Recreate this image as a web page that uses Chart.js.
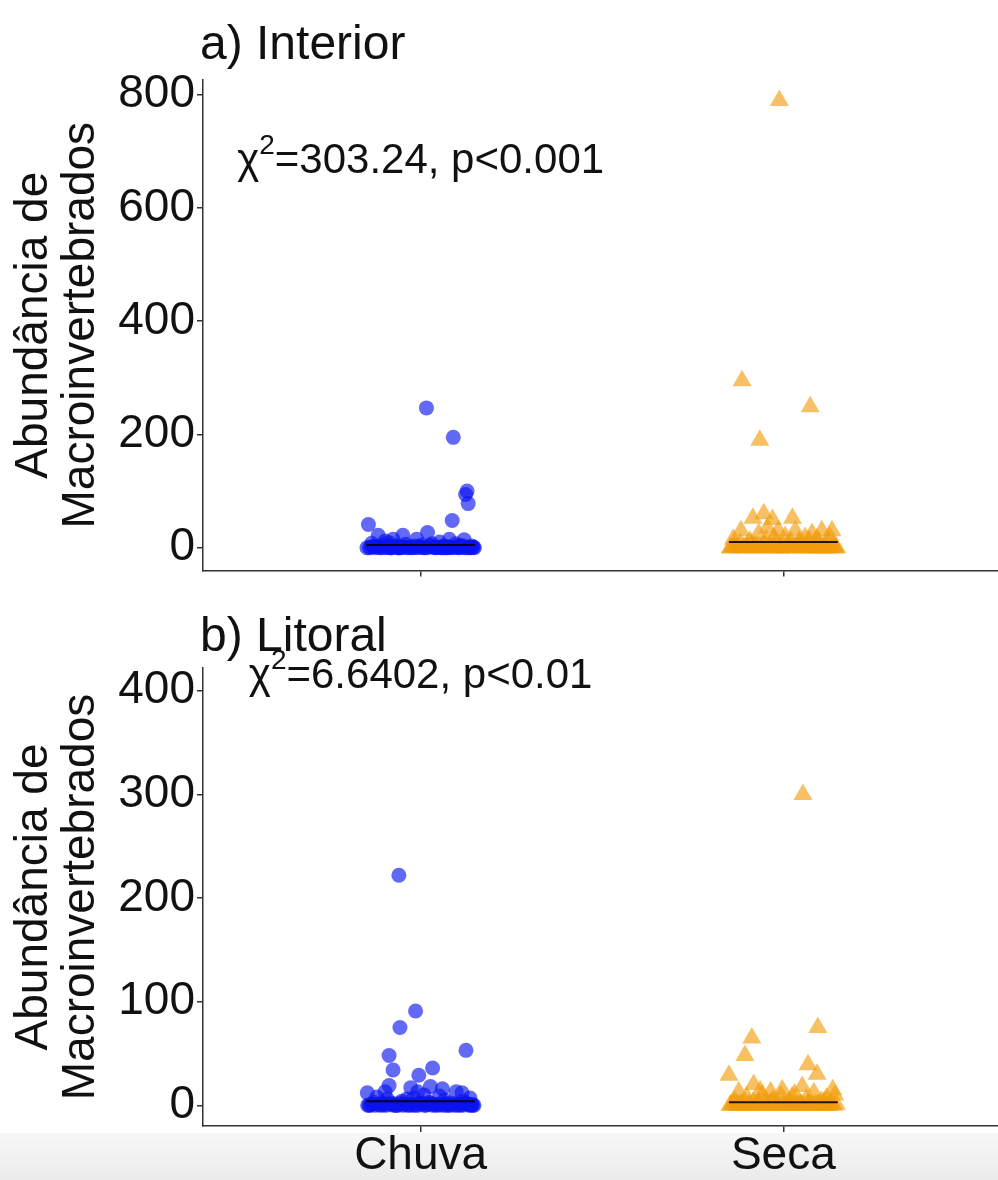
<!DOCTYPE html>
<html lang="pt">
<head>
<meta charset="utf-8">
<title>Abundância de Macroinvertebrados – Chuva x Seca</title>
<script src="https://cdn.jsdelivr.net/npm/chart.js@4.4.1/dist/chart.umd.min.js"></script>
<style>
    html, body { margin: 0; padding: 0; background: #fff; overflow: hidden; }
    body { width: 998px; height: 1180px; position: relative; }
    .band { position: absolute; left: 0; top: 1133px; width: 998px; height: 47px;
            background: linear-gradient(#f7f7f7, #ebebeb); }
    .panel { position: absolute; left: 0; width: 1012px; }
    #pInterior { top: 0; height: 600px; }
    #pLitoral { top: 600px; height: 580px; }
</style>
</head>
<body>
<div class="band"></div>
<div class="panel" id="pInterior"><canvas id="cInterior"></canvas></div>
<div class="panel" id="pLitoral"><canvas id="cLitoral"></canvas></div>
<script>
/* Abundância de macroinvertebrados por estação (Chuva / Seca)
 * a) Interior  b) Litoral – pontos com jitter + linha da mediana
 */

const CATEGORIES = ['Chuva', 'Seca'];
const Y_TITLE = ['Abundância de', 'Macroinvertebrados'];

// a) Interior – deslocamento horizontal (jitter) e abundância
const interiorChuvaJitter = [0.016, 0.090, 0.128, 0.124, 0.131, -0.144, 0.087, 0.019, -0.117, -0.049, -0.076, -0.011, 0.079, 0.120, -0.098, 0.052,
    -0.141, -0.128, -0.112, -0.103, -0.091, -0.082, -0.069, -0.058, -0.041, -0.033, -0.022, -0.004, 0.008, 0.027, 0.036, 0.044,
    0.061, 0.069, 0.083, 0.097, 0.104, 0.113, 0.137, 0.146, -0.135, -0.061, 0.003, 0.074, 0.141, -0.087, 0.031, 0.108,
    -0.148, -0.137, -0.124, -0.119, -0.108, -0.097, -0.088, -0.079, -0.071, -0.063, -0.054, -0.046, -0.037, -0.028, -0.018, -0.009,
    0.001, 0.012, 0.019, 0.029, 0.039, 0.048, 0.057, 0.066, 0.073, 0.081, 0.091, 0.099, 0.109, 0.118, 0.127, 0.134,
    0.143, 0.148, -0.131, -0.084, -0.015, 0.058, 0.121, -0.052];
const interiorChuva = [247, 195, 100, 94, 78, 41, 48, 27, 22, 22, 15, 15, 15, 14, 12, 10,
    0, 2, 0, 5, 1, 0, 3, 0, 6, 1, 0, 2, 0, 4, 1, 0,
    3, 0, 1, 7, 0, 2, 0, 1, 8, 0, 5, 0, 3, 9, 7, 4,
    0, 1, 0, 2, 0, 0, 1, 0, 2, 0, 0, 1, 0, 0, 3, 0,
    1, 0, 0, 2, 0, 1, 0, 0, 2, 0, 0, 1, 0, 3, 0, 0,
    1, 0, 2, 0, 1, 0, 0, 2];
const interiorSecaJitter = [-0.011, -0.114, 0.074, -0.065, -0.084, -0.054, -0.030, 0.025, -0.044, -0.014, 0.033, -0.117, 0.106, 0.134, 0.079, -0.068, 0.005, 0.060,
    -0.146, -0.131, -0.119, -0.102, -0.093, -0.078, -0.061, -0.047, -0.036, -0.021, -0.006, 0.012, 0.021, 0.038, 0.047,
    0.056, 0.071, 0.088, 0.097, 0.115, 0.124, 0.139, 0.147, -0.138, -0.089, -0.026, 0.043, 0.093, 0.128,
    -0.145, -0.139, -0.127, -0.121, -0.111, -0.099, -0.086, -0.081, -0.068, -0.059, -0.051, -0.041, -0.031, -0.024, -0.011, -0.003,
    0.007, 0.016, 0.027, 0.034, 0.044, 0.051, 0.062, 0.068, 0.079, 0.086, 0.094, 0.103, 0.111, 0.121, 0.131, 0.136,
    0.144, -0.134, -0.107, -0.072, -0.009, 0.039, 0.083, 0.118];
const interiorSeca = [790, 295, 249, 190, 52, 60, 50, 52, 35, 30, 30, 30, 30, 30, 25, 25, 20, 18,
    0, 3, 8, 1, 12, 4, 0, 14, 2, 9, 0, 5, 11, 1, 7,
    0, 13, 3, 8, 0, 10, 4, 0, 15, 6, 18, 12, 16, 19,
    0, 2, 0, 1, 0, 3, 0, 0, 1, 0, 2, 0, 0, 1, 0, 4,
    0, 0, 2, 0, 1, 0, 0, 3, 0, 1, 0, 0, 2, 0, 0, 1,
    0, 2, 0, 1, 0, 3, 0, 0];
const interiorMedians = [5, 10];
const interiorTicks = [0, 200, 400, 600, 800];

// b) Litoral
const litoralChuvaJitter = [-0.060, -0.014, -0.057, -0.087, 0.125, -0.076, 0.033, -0.005, -0.087, -0.027, 0.027, 0.060, -0.147, 0.098, 0.114, -0.008, -0.098,
    -0.142, -0.129, -0.116, -0.104, -0.092, -0.079, -0.066, -0.052, -0.043, -0.031, -0.019, -0.002, 0.011, 0.023,
    0.039, 0.048, 0.066, 0.077, 0.086, 0.101, 0.118, 0.131, 0.144, -0.121, -0.038, 0.052, 0.136, 0.009,
    -0.146, -0.135, -0.126, -0.113, -0.106, -0.095, -0.084, -0.075, -0.069, -0.057, -0.048, -0.036, -0.026, -0.013, -0.007, 0.004,
    0.014, 0.021, 0.033, 0.041, 0.053, 0.061, 0.071, 0.079, 0.092, 0.098, 0.108, 0.116, 0.124, 0.133, 0.141, 0.147,
    -0.139, -0.101, -0.062, -0.021, 0.026, 0.069, 0.112, 0.139];
const litoralChuva = [222, 91, 75, 48, 53, 34, 36, 29, 19, 17, 18, 16, 12, 13, 12, 13, 13,
    0, 3, 1, 0, 6, 2, 0, 4, 1, 0, 7, 2, 0, 3,
    1, 0, 5, 0, 2, 0, 4, 1, 0, 8, 6, 9, 7, 10,
    0, 1, 0, 0, 2, 0, 1, 0, 0, 2, 0, 0, 1, 0, 0, 2,
    0, 1, 0, 0, 1, 0, 2, 0, 0, 1, 0, 0, 2, 0, 1, 0,
    0, 1, 0, 0, 2, 0, 1, 0];
const litoralSecaJitter = [0.054, 0.095, -0.087, -0.106, -0.150, 0.068, 0.093, -0.082, 0.052, -0.003, 0.136, -0.123, -0.035,
    -0.147, -0.133, -0.118, -0.101, -0.089, -0.071, -0.058, -0.046, -0.029, -0.017, -0.006, 0.008,
    0.019, 0.031, 0.042, 0.063, 0.075, 0.084, 0.107, 0.119, 0.128, 0.142, -0.064, 0.024, 0.112,
    -0.144, -0.138, -0.124, -0.115, -0.108, -0.094, -0.083, -0.077, -0.066, -0.052, -0.041, -0.033, -0.022, -0.012, -0.001, 0.011,
    0.016, 0.028, 0.037, 0.046, 0.054, 0.067, 0.071, 0.081, 0.089, 0.097, 0.104, 0.114, 0.123, 0.133, 0.139, 0.146,
    -0.129, -0.097, -0.036, 0.003, 0.049, 0.093, 0.126, -0.069];
const litoralSeca = [300, 75, 65, 48, 29, 39, 30, 20, 18, 15, 15, 13, 13,
    0, 4, 1, 8, 0, 2, 10, 0, 5, 1, 9, 0,
    3, 11, 0, 6, 2, 12, 0, 7, 1, 10, 14, 8, 3,
    0, 2, 0, 1, 0, 0, 3, 0, 1, 0, 0, 2, 0, 0, 1, 0,
    3, 0, 0, 1, 0, 2, 0, 0, 1, 0, 4, 0, 0, 2, 0, 1,
    0, 0, 2, 0, 1, 0, 0, 3];
const litoralMedians = [4, 3];
const litoralTicks = [0, 100, 200, 300, 400];

const FONT = '"Liberation Sans", Arial, Helvetica, sans-serif';
const INK = '#111111';
const AXIS = '#333333';
const PALETTE = {
    chuva: 'rgba(10, 20, 240, 0.64)',
    seca:  'rgba(242, 156, 12, 0.64)',
    median: 'rgba(10, 5, 0, 0.9)',
};
const MEDIAN_HALF = 0.15;

// título do painel + estatística (χ² com expoente)
const panelText = {
    id: 'panelText',
    afterDraw(chart, args, opts) {
        const { ctx, chartArea, scales } = chart;
        ctx.save();
        ctx.fillStyle = INK;
        ctx.textAlign = 'left';
        ctx.textBaseline = 'alphabetic';
        ctx.font = `48px ${FONT}`;
        ctx.fillText(opts.title, chartArea.left - 3, opts.titleBaseline);

        const big = `42px ${FONT}`;
        const small = `28px ${FONT}`;
        ctx.font = big;
        const wChi = ctx.measureText('χ').width;
        const wRest = ctx.measureText(opts.stat).width;
        ctx.font = small;
        const wSup = ctx.measureText('2').width;
        let x = scales.x.getPixelForValue(opts.statX) - (wChi + wSup + wRest) / 2;
        const y = scales.y.getPixelForValue(opts.statY);
        ctx.font = big;
        ctx.fillText('χ', x, y);
        x += wChi;
        ctx.font = small;
        ctx.fillText('2', x, y - 19);
        x += wSup;
        ctx.font = big;
        ctx.fillText(opts.stat, x, y);
        ctx.restore();
    },
};

function buildDatasets(chuvaJitter, chuva, secaJitter, seca, medians) {
    const medianLine = (cat, v) => ({
        type: 'line',
        data: [{ x: cat - MEDIAN_HALF, y: v }, { x: cat + MEDIAN_HALF, y: v }],
        borderColor: PALETTE.median,
        borderWidth: 2,
        pointRadius: 0,
        order: -1,
    });
    return [
        medianLine(1, medians[0]),
        medianLine(2, medians[1]),
        {
            label: CATEGORIES[0],
            data: chuva.map((v, i) => ({ x: 1 + chuvaJitter[i], y: v })),
            pointStyle: 'circle',
            pointRadius: 7.5,
            backgroundColor: PALETTE.chuva,
            borderColor: 'transparent',
            borderWidth: 0,
        },
        {
            label: CATEGORIES[1],
            data: seca.map((v, i) => ({ x: 2 + secaJitter[i], y: v })),
            pointStyle: 'triangle',
            pointRadius: 11,
            backgroundColor: PALETTE.seca,
            borderColor: 'transparent',
            borderWidth: 0,
        },
    ];
}

function panelOptions(p) {
    return {
        responsive: true,
        maintainAspectRatio: false,
        animation: false,
        events: [],
        layout: { padding: { top: p.padTop, right: 4, left: 0, bottom: 0 } },
        plugins: {
            legend: { display: false },
            tooltip: { enabled: false },
            panelText: p.text,
        },
        scales: {
            x: {
                type: 'linear',
                min: 0.4,
                max: 2.6,
                afterBuildTicks: (s) => { s.ticks = CATEGORIES.map((_, i) => ({ value: i + 1 })); },
                afterFit: (s) => { s.height = p.xAxisHeight; },
                ticks: {
                    color: p.showLabels ? INK : 'rgba(0,0,0,0)',
                    font: { size: 46, family: FONT, lineHeight: 1 },
                    padding: 1,
                    maxRotation: 0,
                    callback: (v) => CATEGORIES[v - 1],
                },
                grid: { drawOnChartArea: false, drawTicks: true, tickLength: 6, color: AXIS, lineWidth: 1.5 },
                border: { display: true, color: AXIS, width: 1.5 },
            },
            y: {
                min: p.yMin,
                max: p.yMax,
                afterBuildTicks: (s) => { s.ticks = p.yTicks.map((v) => ({ value: v })); },
                afterFit: (s) => { s.width = 203; },
                ticks: { color: INK, font: { size: 46, family: FONT }, padding: 2 },
                grid: { drawOnChartArea: false, drawTicks: true, tickLength: 6, color: AXIS, lineWidth: 1.5 },
                border: { display: true, color: AXIS, width: 1.5 },
                title: {
                    display: true,
                    text: Y_TITLE,
                    color: INK,
                    font: { size: 46, family: FONT, lineHeight: 1.02 },
                    padding: { top: 11, bottom: 0 },
                },
            },
        },
    };
}

new Chart(document.getElementById('cInterior'), {
    type: 'scatter',
    data: { datasets: buildDatasets(interiorChuvaJitter, interiorChuva, interiorSecaJitter, interiorSeca, interiorMedians) },
    options: panelOptions({
        padTop: 80, xAxisHeight: 21, showLabels: false,
        yMin: -40, yMax: 826, yTicks: interiorTicks,
        text: { title: 'a) Interior', titleBaseline: 59, stat: '=303.24, p<0.001', statX: 1, statY: 661 },
    }),
    plugins: [panelText],
});

new Chart(document.getElementById('cLitoral'), {
    type: 'scatter',
    data: { datasets: buildDatasets(litoralChuvaJitter, litoralChuva, litoralSecaJitter, litoralSeca, litoralMedians) },
    options: panelOptions({
        padTop: 68, xAxisHeight: 54, showLabels: true,
        yMin: -20, yMax: 422, yTicks: litoralTicks,
        text: { title: 'b) Litoral', titleBaseline: 51, stat: '=6.6402, p<0.01', statX: 1, statY: 403 },
    }),
    plugins: [panelText],
});
</script>
</body>
</html>
